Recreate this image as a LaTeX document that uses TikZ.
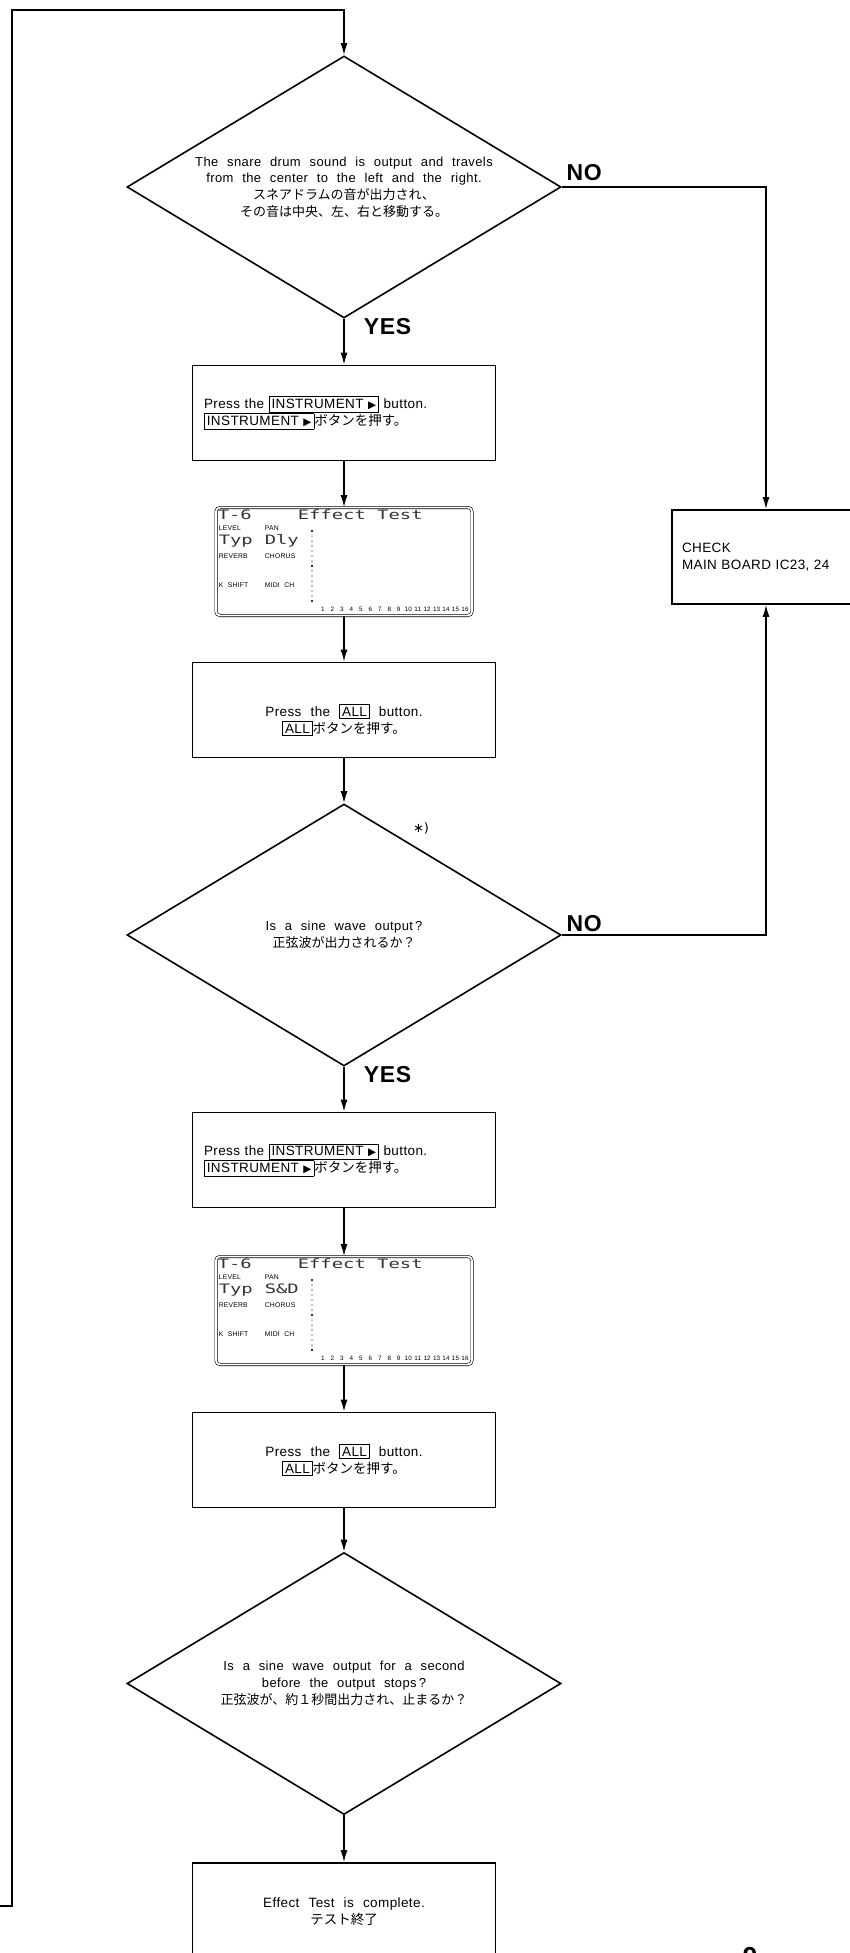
\documentclass[tikz,border=0pt]{standalone}
\usepackage{fontspec}
\usetikzlibrary{arrows.meta, shapes.geometric}
\setmainfont[WordSpace=2.2, LetterSpace=3]{Liberation Sans}
\newfontfamily\jpfont{Noto Sans CJK JP}
\newfontfamily\symfont{DejaVu Sans}
\newfontfamily\lcdfont[FakeStretch=1.45]{DejaVu Sans Mono}
\newcommand{\keycap}[1]{{\setlength{\fboxsep}{2pt}\setlength{\fboxrule}{0.8pt}\fbox{#1}}}
\newcommand{\rightkey}{{\symfont\fontsize{10.5}{10.5}\selectfont ▶}}

\begin{document}
\begin{tikzpicture}[x=1pt, y=-1pt, line width=1.6pt,
	flow/.style={-{Latex[length=12pt, width=7pt]}},
	decision/.style={draw, diamond, aspect=1.66, minimum width=434pt, minimum height=262pt, inner sep=0pt, align=center, font=\fontsize{13}{16.7}\selectfont},
	procbox/.style={draw, rectangle, minimum width=303pt, minimum height=95pt, inner sep=0pt},
	boxtext/.style={align=center, inner sep=0pt, font=\fontsize{13.5}{16.7}\selectfont},
	answer/.style={anchor=base west, inner sep=0pt, font=\bfseries\fontsize{23}{23}\selectfont},
	lcdframe/.style={draw, double, double distance=1.8pt, line width=0.6pt, rounded corners=4pt, minimum width=256pt, minimum height=108pt, inner sep=0pt},
	lcdtext/.style={anchor=base west, inner sep=0pt, text=black!80, font=\lcdfont\fontsize{13}{13}\selectfont},
	lcdlabel/.style={anchor=base west, inner sep=0pt, font=\fontsize{6.8}{6.8}\selectfont},
	lcdnum/.style={anchor=base, inner sep=0pt, font=\fontsize{6.3}{6.3}\selectfont}]
	\useasboundingbox (0,0) rectangle (850,1953);

	\node[decision] (snare) at (344,187) {The snare drum sound is output and travels\\ from the center to the left and the right.\\ {\jpfont スネアドラムの音が出力され、}\\ {\jpfont その音は中央、左、右と移動する。}};

	\node[procbox, boxtext, align=left, text width=280pt] (press1) at (344,413) {Press the \keycap{INSTRUMENT \rightkey} button.\\ \keycap{INSTRUMENT \rightkey}{\jpfont ボタンを押す。}};

	\node[procbox] (all1) at (344,710) {};
	\node[boxtext] (all1txt) at (344,720) {Press the \keycap{ALL} button.\\ \keycap{ALL}{\jpfont ボタンを押す。}};

	\node[decision] (sine) at (344,935) {Is a sine wave output\,?\\ {\jpfont 正弦波が出力されるか？}};
	\node[inner sep=0pt, font=\symfont\fontsize{13}{13}\selectfont] (note) at (421,828) {∗)};

	\node[procbox, boxtext, align=left, text width=280pt] (press2) at (344,1160) {Press the \keycap{INSTRUMENT \rightkey} button.\\ \keycap{INSTRUMENT \rightkey}{\jpfont ボタンを押す。}};

	\node[procbox, boxtext] (all2) at (344,1460) {Press the \keycap{ALL} button.\\ \keycap{ALL}{\jpfont ボタンを押す。}};

	\node[decision] (stops) at (344,1683.5) {Is a sine wave output for a second\\ before the output stops\,?\\ {\jpfont 正弦波が、約１秒間出力され、止まるか？}};

	\node[procbox, boxtext, minimum height=97pt] (done) at (344,1911.5) {Effect Test is complete.\\ {\jpfont テスト終了}};

	\node[procbox, boxtext, align=left, text width=168pt, minimum width=188pt, minimum height=94pt] (check) at (766,557) {CHECK\\ MAIN BOARD IC23, 24};

	\foreach \panel/\ytop/\mode in {1/506/Dly, 2/1255/S\&D} {
		\node[lcdframe] (lcd\panel) at (344,\ytop+55.5) {};
		\node[lcdtext] (lcdhead\panel) at (217,\ytop+13) {T-6};
		\node[lcdtext] (lcdtitle\panel) at (297,\ytop+13) {Effect Test};
		\node[lcdlabel] (lcdlevel\panel) at (218,\ytop+24) {LEVEL};
		\node[lcdlabel] (lcdpan\panel) at (264,\ytop+24) {PAN};
		\node[lcdtext] (lcdtyp\panel) at (218,\ytop+38) {Typ};
		\node[lcdtext] (lcdmode\panel) at (264,\ytop+38) {\mode};
		\node[lcdlabel] (lcdreverb\panel) at (218,\ytop+52) {REVERB};
		\node[lcdlabel] (lcdchorus\panel) at (264,\ytop+52) {CHORUS};
		\node[lcdlabel] (lcdshift\panel) at (218,\ytop+81) {K SHIFT};
		\node[lcdlabel] (lcdmidi\panel) at (264,\ytop+81) {MIDI CH};
		\foreach \k in {0,...,14}
			\fill (312,\ytop+25+5*\k) circle (0.55pt);
		\foreach \k in {0,7,14}
			\fill (312,\ytop+25+5*\k) circle (1.2pt);
		\foreach \c in {1,...,16}
			\node[lcdnum] (lcdnum\panel-\c) at (313.5+9.47*\c,\ytop+105) {\c};
	}

	\node[inner sep=0pt, anchor=north, font=\bfseries\fontsize{26}{26}\selectfont] (pagenum) at (750,1947) {9};

	\coordinate (loopin) at (0,1906);
	\coordinate (loopcorner) at (12,10);
	\draw[flow] (loopin) -| (loopcorner) -| (snare.north);

	\draw[flow] (snare.south) -- (press1.north);
	\node[answer] (yes1) at ([xshift=19pt, yshift=-16pt]snare.south) {YES};
	\draw[flow] (snare.east) -| (check.north);
	\node[answer] (no1) at ([xshift=4pt, yshift=6pt]snare.east) {NO};

	\draw[flow] (press1.south) -- (lcd1.north);
	\draw[flow] (lcd1.south) -- (all1.north);
	\draw[flow] (all1.south) -- (sine.north);

	\draw[flow] (sine.east) -| (check.south);
	\node[answer] (no2) at ([xshift=4pt, yshift=4pt]sine.east) {NO};
	\draw[flow] (sine.south) -- (press2.north);
	\node[answer] (yes2) at ([xshift=19pt, yshift=-16pt]sine.south) {YES};

	\draw[flow] (press2.south) -- (lcd2.north);
	\draw[flow] (lcd2.south) -- (all2.north);
	\draw[flow] (all2.south) -- (stops.north);
	\draw[flow] (stops.south) -- (done.north);
\end{tikzpicture}
\end{document}
